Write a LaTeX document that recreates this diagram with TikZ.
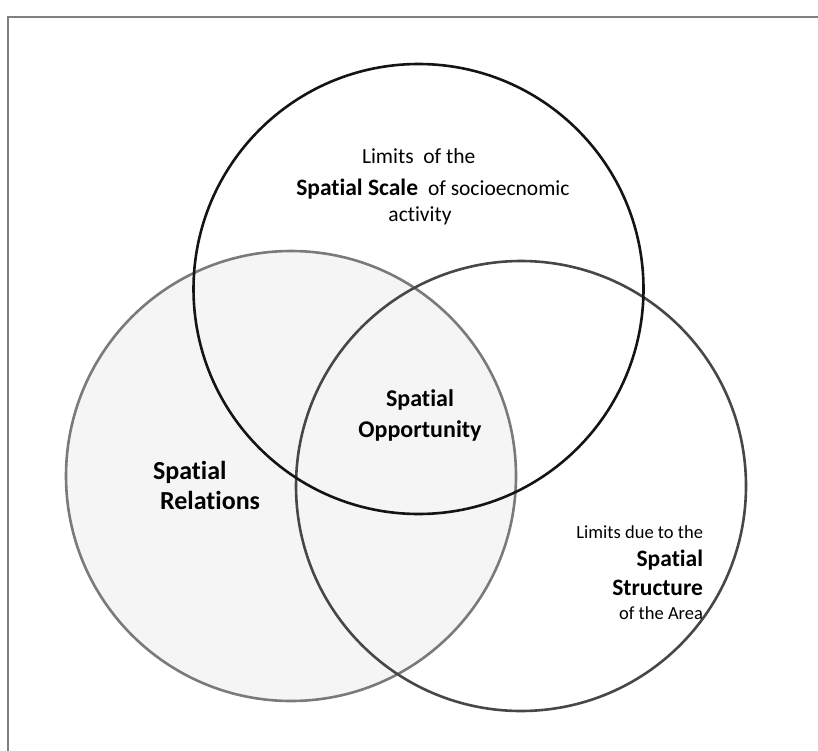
\documentclass[tikz,border=0pt]{standalone}
\usepackage{fontspec}
\setmainfont{Carlito}[Ligatures={NoCommon}]
\begin{document}
\begin{tikzpicture}[x=1pt,y=-1pt,
  lbl/.style={inner sep=0pt,outer sep=0pt},
  ringtop/.style={draw=black!92,line width=2.6pt},
  ringleft/.style={draw=black!52,fill=black!4,line width=2.6pt},
  ringright/.style={draw=black!72,line width=2.6pt}]
\useasboundingbox (0,0) rectangle (818,751);
% frame
\draw[black!50,line width=1.5pt] (8,751) -- (8,17) -- (818,17);
% circles
\node[ringleft,circle,minimum size=450pt,inner sep=0pt] (rel) at (291,476) {};
\node[ringright,circle,minimum size=450pt,inner sep=0pt] (str) at (521,486) {};
\node[ringtop,circle,minimum size=450pt,inner sep=0pt] (sca) at (418.5,289) {};
% top texts
\node[lbl,anchor=base west] (t1) at (362,164) {\fontsize{21.5}{21.5}\selectfont Limits\ \ of the};
\node[lbl,anchor=base east] (t2) at (418,195.5) {\fontsize{23.5}{23.5}\selectfont\bfseries Spatial Scale};
\node[lbl,anchor=base west] (t3) at (428,195.5) {\fontsize{21.5}{21.5}\selectfont of socioecnomic};
\node[lbl,anchor=base] (t4) at (420,222) {\fontsize{21.5}{21.5}\selectfont activity};
% centre
\node[lbl,anchor=base] (o1) at (420,406.5) {\fontsize{24}{24}\selectfont\bfseries Spatial};
\node[lbl,anchor=base] (o2) at (420,437.5) {\fontsize{24}{24}\selectfont\bfseries Opportunity};
% left
\node[lbl,anchor=base west] (r1) at (153,479) {\fontsize{26}{26}\selectfont\bfseries Spatial};
\node[lbl,anchor=base west] (r2) at (160,509) {\fontsize{26}{26}\selectfont\bfseries Relations};
% bottom right
\node[lbl,anchor=base east] (s1) at (703,538) {\fontsize{18.5}{18.5}\selectfont Limits due to the};
\node[lbl,anchor=base east] (s2) at (703,566.5) {\fontsize{23.5}{23.5}\selectfont\bfseries Spatial};
\node[lbl,anchor=base east] (s3) at (703,595) {\fontsize{23.5}{23.5}\selectfont\bfseries Structure};
\node[lbl,anchor=base east] (s4) at (703,619) {\fontsize{18.5}{18.5}\selectfont of the Area};
\end{tikzpicture}
\end{document}
